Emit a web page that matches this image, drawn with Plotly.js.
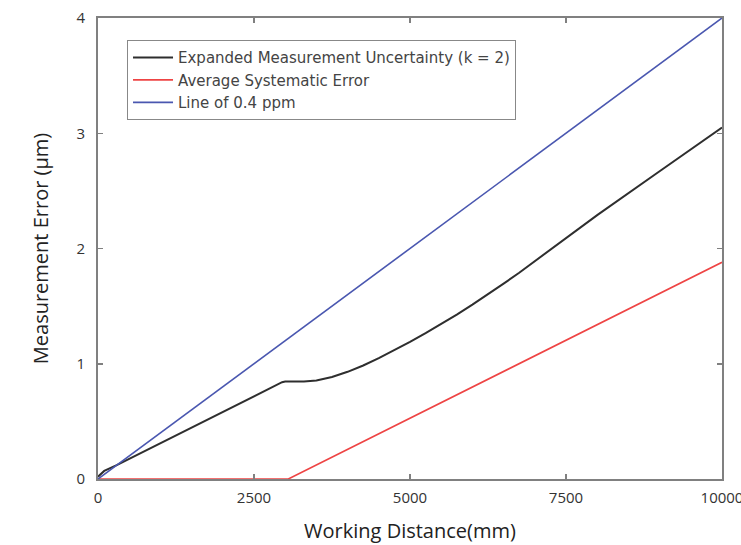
<!DOCTYPE html>
<html>
<head>
<meta charset="utf-8">
<script src="https://cdn.plot.ly/plotly-3.0.1.min.js"></script>
<style>body{margin:0;padding:0;background:#fff}#chart{width:741px;height:545px}</style>
</head>
<body>
<div id="chart"></div>
<script>
// Data (working distance in mm, error in µm)
const seriesNames = ["Expanded Measurement Uncertainty (k = 2)", "Average Systematic Error", "Line of 0.4 ppm"];
const uncertaintyX = [0, 100, 300, 1000, 2000, 2950, 3000, 3300, 3500, 3750, 4000, 4250, 4500, 4750, 5000, 5250, 5500, 5750, 6000, 6250, 6500, 6750, 7000, 7500, 8000, 9000, 10000];
const uncertaintyY = [0.02, 0.07, 0.12, 0.31, 0.58, 0.84, 0.845, 0.845, 0.855, 0.885, 0.93, 0.985, 1.048, 1.117, 1.19, 1.265, 1.345, 1.427, 1.513, 1.602, 1.695, 1.79, 1.89, 2.09, 2.29, 2.67, 3.05];
const systematicX = [0, 3050, 10000];
const systematicY = [0, 0, 1.88];
const ppmX = [0, 10000];
const ppmY = [0, 4];
const xTicks = [0, 2500, 5000, 7500, 10000];
const yTicks = [0, 1, 2, 3, 4];

const fontFam = "Open Sans, sans-serif";
const traces = [
  {x: uncertaintyX, y: uncertaintyY, name: seriesNames[0], mode: "lines", line: {color: "#2e2e2e", width: 2}},
  {x: systematicX, y: systematicY, name: seriesNames[1], mode: "lines", line: {color: "#ee4444", width: 1.6}},
  {x: ppmX, y: ppmY, name: seriesNames[2], mode: "lines", line: {color: "#4a57b0", width: 1.6}}
];
const axisCommon = {showgrid: false, zeroline: false, showline: true, mirror: "ticks", linecolor: "#808080", linewidth: 2,
  ticks: "inside", ticklen: 5, tickcolor: "#808080", tickwidth: 1.5, ticklabeloverflow: "allow",
  tickfont: {family: fontFam, size: 15, color: "#333"}};
const layout = {
  width: 741, height: 545,
  margin: {l: 98, r: 19, t: 18, b: 66},
  paper_bgcolor: "#fff", plot_bgcolor: "#fff",
  showlegend: true,
  legend: {x: 0.0465, y: 0.952, xanchor: "left", yanchor: "top", bgcolor: "#fff", bordercolor: "#888", borderwidth: 1,
    font: {family: "DejaVu Sans, sans-serif", size: 15, color: "#444"}, tracegroupgap: 0, itemwidth: 40},
  xaxis: Object.assign({}, axisCommon, {range: [0, 10000], tickvals: xTicks, ticktext: xTicks.map(String), ticklabelstandoff: 4,
    title: {text: "Working Distance(mm)", font: {family: fontFam, size: 20, color: "#222"}, standoff: 18}}),
  yaxis: Object.assign({}, axisCommon, {range: [0, 4], tickvals: yTicks, ticktext: yTicks.map(String), ticklabelstandoff: 8,
    title: {text: "Measurement Error (µm)", font: {family: fontFam, size: 20, color: "#222"}, standoff: 22}})
};
Plotly.newPlot("chart", traces, layout, {displayModeBar: false, staticPlot: true});
</script>
</body>
</html>
